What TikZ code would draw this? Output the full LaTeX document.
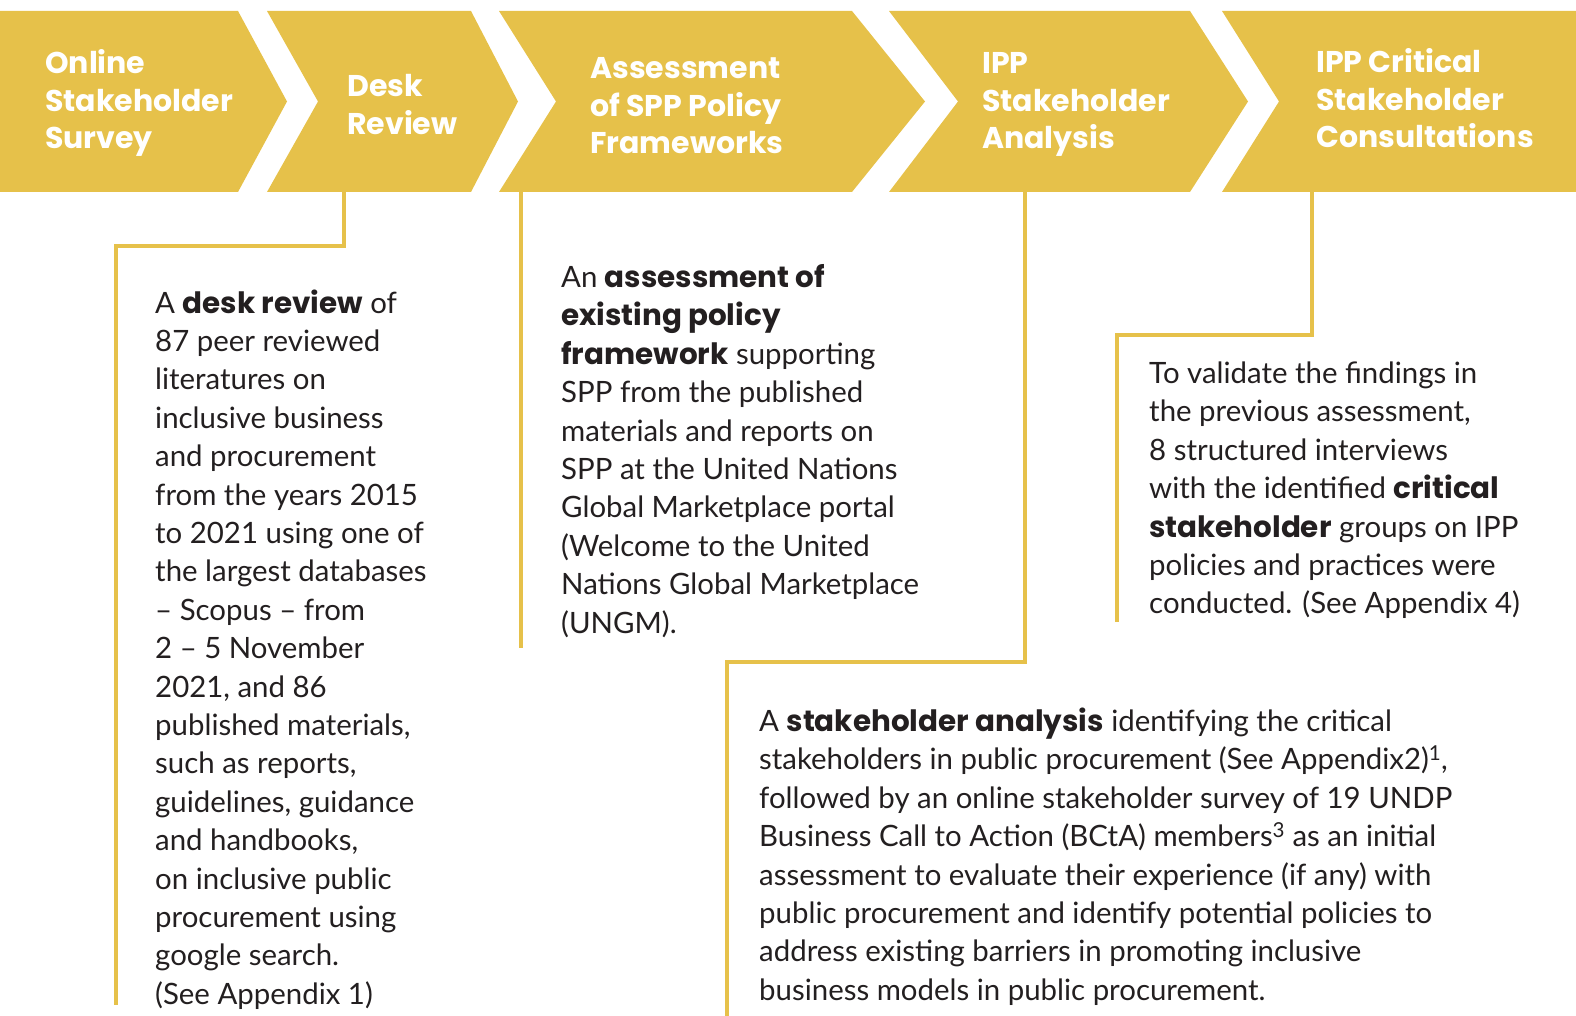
\documentclass[tikz,border=0pt]{standalone}
\usepackage{fontspec}
\setmainfont{Lato}
\newfontfamily\heavy{Poppins}
\definecolor{gold}{HTML}{E6C14A}
\definecolor{ink}{HTML}{231F20}
\newcommand\row[1]{\hbox{#1}}
\newcommand\hb[1]{{\heavy\bfseries #1}}
\newcommand\blk[2]{\vtop{\baselineskip=#1\relax\lineskiplimit=-100pt #2}}
\tikzset{
  chev/.style={fill=gold, draw=none},
  title/.style={anchor=base west, inner sep=0pt, text=white, font=\heavy\bfseries\fontsize{30}{37.7}\selectfont},
  body/.style={anchor=base west, inner sep=0pt, text=ink, font=\fontsize{29.4}{38.4}\selectfont},
  conn/.style={draw=gold, line width=4pt, line join=miter, line cap=butt},
}
\begin{document}
\begin{tikzpicture}[x=1pt,y=-1pt]
\useasboundingbox (0,0) rectangle (1576,1016);
% chevrons
\fill[chev] (0,11) -- (238,11) -- (287,101.5) -- (238,192) -- (0,192) -- cycle;
\fill[chev] (267,11) -- (471,11) -- (518,101.5) -- (471,192) -- (267,192) -- (318,101.5) -- cycle;
\fill[chev] (499,11) -- (852,11) -- (925,101.5) -- (852,192) -- (499,192) -- (556,101.5) -- cycle;
\fill[chev] (889,11) -- (1190,11) -- (1248,101.5) -- (1190,192) -- (889,192) -- (958,101.5) -- cycle;
\fill[chev] (1222,11) -- (1576,11) -- (1576,192) -- (1222,192) -- (1279,101.5) -- cycle;
% titles
\node[title] (t1) at (45,73.5) {\blk{37.7pt}{\row{Online}\row{Stakeholder}\row{Survey}}};
\node[title] (t2) at (347,96.5) {\blk{37.7pt}{\row{Desk}\row{Review}}};
\node[title] (t3) at (590,78.5) {\blk{37.7pt}{\row{Assessment}\row{of SPP Policy}\row{Frameworks}}};
\node[title] (t4) at (982,73.5) {\blk{37.7pt}{\row{IPP}\row{Stakeholder}\row{Analysis}}};
\node[title] (t5) at (1316,72.5) {\blk{37.7pt}{\row{IPP Critical}\row{Stakeholder}\row{Consultations}}};
% connector coordinates
\coordinate (d0) at (344,190);
\coordinate (d1) at (344,246);
\coordinate (d2) at (116,246);
\coordinate (d3) at (116,1005);
\coordinate (a0) at (521,190);
\coordinate (a1) at (521,648);
\coordinate (s0) at (1025,190);
\coordinate (s1) at (1025,662);
\coordinate (s2) at (727,662);
\coordinate (s3) at (727,1016);
\coordinate (c0) at (1312,190);
\coordinate (c1) at (1312,335);
\coordinate (c2) at (1117,335);
\coordinate (c3) at (1117,622);
\draw[conn] (d0) -- (d1) -- (d2) -- (d3);
\draw[conn] (a0) -- (a1);
\draw[conn] (s0) -- (s1) -- (s2) -- (s3);
\draw[conn] (c0) -- (c1) -- (c2) -- (c3);
% body texts
\node[body] (b1) at (155,313) {\blk{38.4pt}{%
\row{A \hb{desk review} of}
\row{87 peer reviewed}
\row{literatures on}
\row{inclusive business}
\row{and procurement}
\row{from the years 2015}
\row{to 2021 using one of}
\row{the largest databases}
\row{– Scopus – from}
\row{2 – 5 November}
\row{2021, and 86}
\row{published materials,}
\row{such as reports,}
\row{guidelines, guidance}
\row{and handbooks,}
\row{on inclusive public}
\row{procurement using}
\row{google search.}
\row{(See Appendix 1)}}};
\node[body] (b2) at (561,287.5) {\blk{38.4pt}{%
\row{An \hb{assessment of}}
\row{\hb{existing policy}}
\row{\hb{framework} supporting}
\row{SPP from the published}
\row{materials and reports on}
\row{SPP at the United Nations}
\row{Global Marketplace portal}
\row{(Welcome to the United}
\row{Nations Global Marketplace}
\row{(UNGM).}}};
\node[body] (b3) at (1149,383.5) {\blk{38.4pt}{%
\row{To validate the findings in}
\row{the previous assessment,}
\row{8 structured interviews}
\row{with the identified \hb{critical}}
\row{\hb{stakeholder} groups on IPP}
\row{policies and practices were}
\row{conducted. (See Appendix 4)}}};
\node[body] (b4) at (759,731.5) {\blk{38.4pt}{%
\row{A \hb{stakeholder analysis} identifying the critical}
\row{stakeholders in public procurement (See Appendix2)\textsuperscript{1},}
\row{followed by an online stakeholder survey of 19 UNDP}
\row{Business Call to Action (BCtA) members\textsuperscript{3} as an initial}
\row{assessment to evaluate their experience (if any) with}
\row{public procurement and identify potential policies to}
\row{address existing barriers in promoting inclusive}
\row{business models in public procurement.}}};
\end{tikzpicture}
\end{document}
